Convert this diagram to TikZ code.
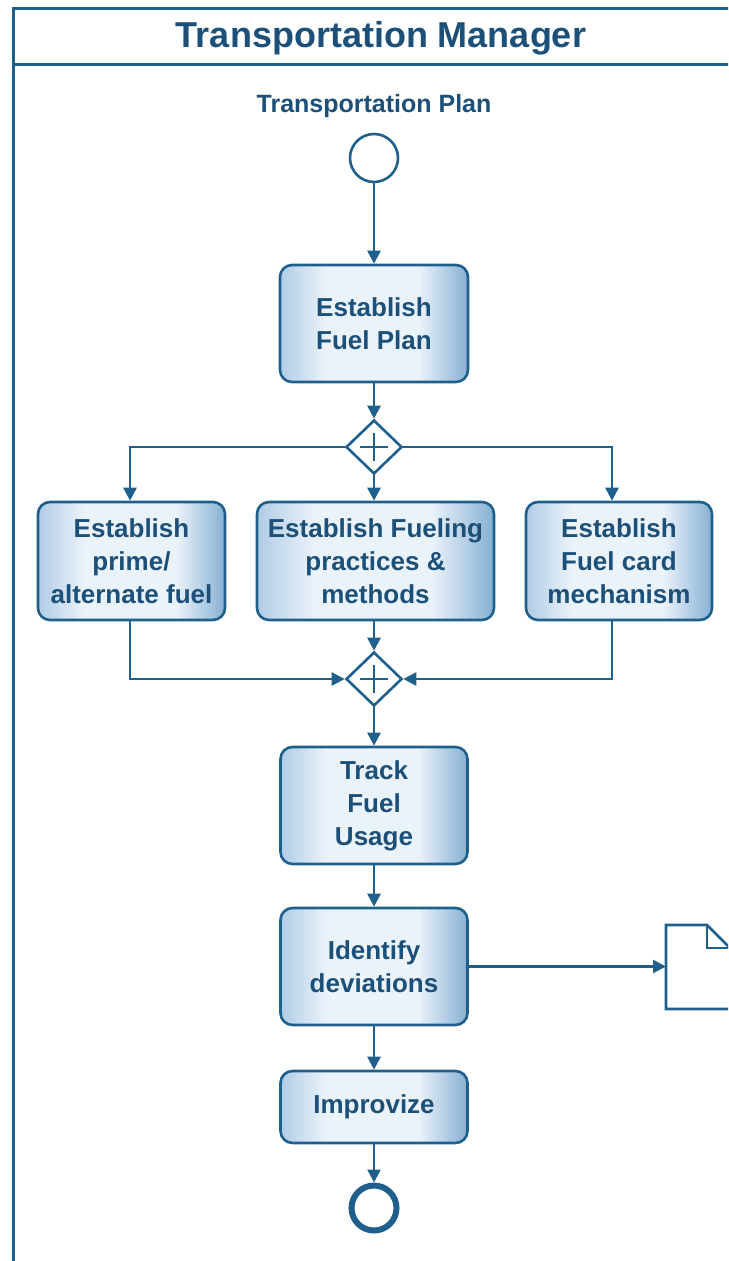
\documentclass[tikz,border=0pt]{standalone}
\usepackage{fontspec}
\setmainfont{Liberation Sans}
\usetikzlibrary{shapes.geometric,arrows.meta}
\definecolor{lane}{HTML}{1E5F8C}
\definecolor{ink}{HTML}{1C5079}
\definecolor{edgeL}{HTML}{AFCCE5}
\definecolor{edgeR}{HTML}{86B0D3}
\definecolor{midfill}{HTML}{EAF2FA}
% task boxes: light centre, darker blue towards both sides
\pgfdeclarehorizontalshading{taskshade}{100bp}{color(0bp)=(edgeL); color(25bp)=(edgeL); color(37bp)=(midfill); color(62bp)=(midfill); color(75bp)=(edgeR); color(100bp)=(edgeR)}
\begin{document}
\begin{tikzpicture}[x=0.5pt,y=-0.5pt,
  task/.style={draw=lane, line width=1.3pt, rounded corners=6pt, shade, shading=taskshade,
    text=ink, font=\bfseries\fontsize{13}{16.5}\selectfont, align=center, inner sep=0pt},
  gate/.style={diamond, draw=lane, fill=white, line width=1.3pt, minimum width=28pt,
    minimum height=27pt, inner sep=0pt},
  plus/.style={draw=lane, line width=1.2pt},
  flow/.style={draw=lane, line width=1.3pt, -{Triangle[length=6.5pt,width=6.5pt]}},
  startev/.style={circle, draw=lane, line width=1.3pt, fill=white, minimum size=24pt, inner sep=0pt},
  endev/.style={circle, draw=lane, line width=3pt, fill=white, minimum size=22.5pt, inner sep=0pt},
  lbl/.style={text=ink, font=\bfseries\fontsize{12.5}{15}\selectfont},
  ttl/.style={text=ink, font=\bfseries\fontsize{18}{22}\selectfont}]
\useasboundingbox (0,0) rectangle (728,1261);
\clip (0,0) rectangle (728,1261);

% pool with header
\draw[lane, line width=1.5pt] (13,1280) -- (13,9) -- (760,9);
\draw[lane, line width=1.5pt] (13,65) -- (760,65);
\node[ttl] (title) at (381,38) {Transportation Manager};

% events, tasks and gateways
\node[lbl] (plan) at (374,106) {Transportation Plan};
\node[startev] (start) at (374,158) {};
\node[task, minimum width=94pt, minimum height=58.5pt] (fuelplan) at (374,323.5) {Establish\\Fuel Plan};
\node[gate] (split) at (374,447) {};
\node[task, minimum width=93.5pt, minimum height=59pt] (prime) at (131.5,561) {Establish\\prime/\\alternate fuel};
\node[task, minimum width=118.5pt, minimum height=59pt] (practices) at (375.5,561) {Establish Fueling\\practices \&\\methods};
\node[task, minimum width=93pt, minimum height=59pt] (card) at (619,561) {Establish\\Fuel card\\mechanism};
\node[gate] (join) at (374,679) {};
\node[task, minimum width=93.5pt, minimum height=58.5pt] (track) at (374,805.5) {Track\\Fuel\\Usage};
\node[task, minimum width=93.5pt, minimum height=58.5pt] (identify) at (374,966.5) {Identify\\deviations};
\node[task, minimum width=93.5pt, minimum height=36pt] (improve) at (374,1107) {Improvize};
\node[endev] (finish) at (374,1208) {};

% plus markers in the parallel gateways
\foreach \g in {split,join}{
  \draw[plus] ([xshift=-7pt]\g.center) -- ([xshift=7pt]\g.center);
  \draw[plus] ([yshift=-7pt]\g.center) -- ([yshift=7pt]\g.center);
}

% document artefact
\coordinate (docin) at (666,966.5);
\draw[lane, line width=1.3pt, fill=white] (666,925) -- (707,925) -- (730,948) -- (730,1009) -- (666,1009) -- cycle;
\draw[lane, line width=1.3pt] (707,925) -- (707,948) -- (730,948);

% sequence flows
\draw[flow] (start) -- (fuelplan);
\draw[flow] (fuelplan) -- (split);
\draw[flow] (split.west) -| ([xshift=-0.75pt]prime.north);
\draw[flow] (split) -- (split |- practices.north);
\draw[flow] (split.east) -| ([xshift=-3.5pt]card.north);
\draw[flow] ([xshift=-0.75pt]prime.south) |- (join.west);
\draw[flow] (join |- practices.south) -- (join);
\draw[flow] ([xshift=-3.5pt]card.south) |- (join.east);
\draw[flow] (join) -- (track);
\draw[flow] (track) -- (identify);
\draw[flow] (identify.east) -- (docin);
\draw[flow] (identify) -- (improve);
\draw[flow] (improve) -- (finish);
\end{tikzpicture}
\end{document}
